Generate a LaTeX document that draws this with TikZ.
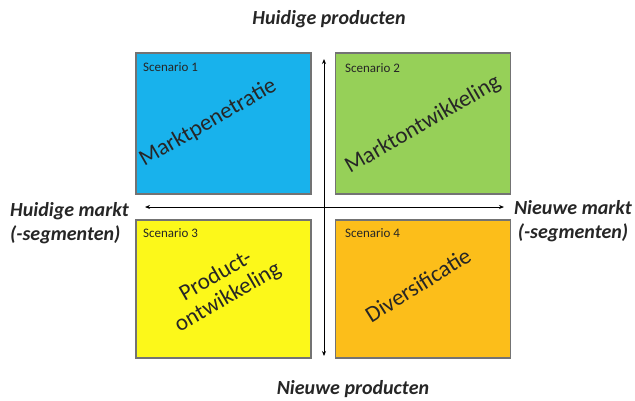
\documentclass[tikz,border=0pt]{standalone}
\usepackage{fontspec}
\setmainfont{Carlito}
\usepackage{tikz}
\usetikzlibrary{arrows.meta,positioning}
\definecolor{qblue}{HTML}{18B2EC}
\definecolor{qgreen}{HTML}{96D058}
\definecolor{qyellow}{HTML}{FCF81A}
\definecolor{qorange}{HTML}{FCBE1A}
\tikzset{
  quad/.style={ draw=black!55, line width=1.2pt, minimum width=175pt, minimum height=141pt, inner sep=0pt }
}
\tikzset{
  scen/.style={ anchor=west, inner sep=0pt, text=black!85, font=\fontsize{13}{15}\selectfont }
}
\tikzset{
  strat/.style={ rotate=30, align=center, text=black!85, font=\fontsize{23}{24}\selectfont }
}
\tikzset{
  axlabel/.style={ font=\fontsize{20}{24}\bfseries\itshape\selectfont, text=black!85 }
}

\begin{document}
\begin{tikzpicture}[x=1pt, y=-1pt]
      \useasboundingbox (0,0) rectangle (635,400);

      \node[quad, fill=qblue] (q1) at (223.5, 123.5) {};
      \node[quad, fill=qgreen] (q2) at (423, 123.5) {};
      \node[quad, fill=qyellow, minimum height=138pt] (q3) at (223.5, 289) {};
      \node[quad, fill=qorange, minimum height=138pt] (q4) at (423, 289) {};

      \node[scen] (s1) at (143, 67) {Scenario 1};
      \node[scen] (s2) at (345, 68) {Scenario 2};
      \node[scen] (s3) at (143, 233) {Scenario 3};
      \node[scen] (s4) at (345, 233) {Scenario 4};

      \node[strat] (mp) at (208, 123) {Marktpenetratie};
      \node[strat] (mo) at (423, 125) {Marktontwikkeling};
      \node[strat] (po) at (222, 287) {Product-\\ontwikkeling};
      \node[strat, rotate=2] (dv) at (418, 285) {Diversificatie};

      % axes
      \coordinate (top) at (324, 59);
      \coordinate (bot) at (324, 356);
      \coordinate (lft) at (145, 207);
      \coordinate (rgt) at (504, 207);
      \draw[{Stealth[length=5pt,width=4pt]}-{Stealth[length=5pt,width=4pt]}, line width=1pt] (bot) -- (top);
      \draw[{Stealth[length=5pt,width=4pt]}-{Stealth[length=5pt,width=4pt]}, line width=1pt] (lft) -- (rgt);

      \node[axlabel] (hp) at (329, 19) {Huidige producten};
      \node[axlabel] (np) at (353, 389) {Nieuwe producten};
      \node[axlabel, align=left, anchor=west, inner sep=0pt] (hm) at (10, 223) {Huidige markt\\(-segmenten)};
      \node[axlabel, align=center, inner sep=0pt] (nm) at (573, 221) {Nieuwe markt\\(-segmenten)};
    \end{tikzpicture}
\end{document}
